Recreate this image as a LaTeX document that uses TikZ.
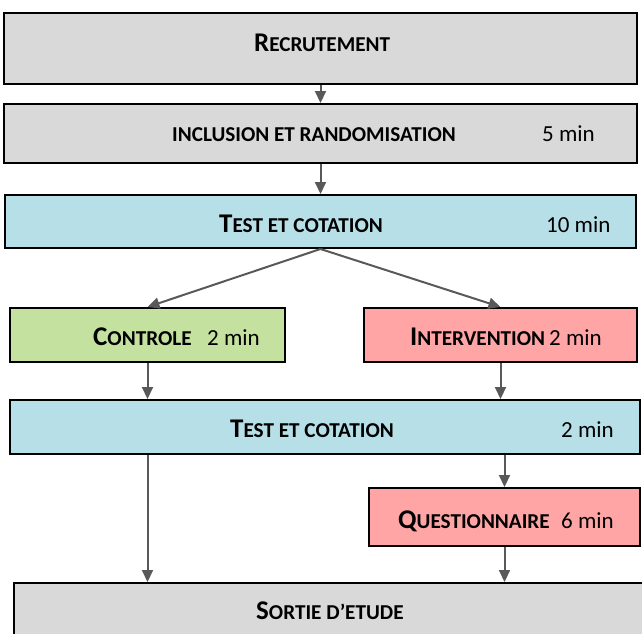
\documentclass[tikz,border=0pt]{standalone}
\usepackage{fontspec}
\setmainfont{Carlito}
\usetikzlibrary{arrows.meta}
\definecolor{boxgray}{HTML}{D9D9D9}
\definecolor{boxblue}{HTML}{B6DFE8}
\definecolor{boxgreen}{HTML}{C4E1A0}
\definecolor{boxred}{HTML}{FFA5A5}
\definecolor{arrgray}{HTML}{595959}
\newcommand{\BigC}[1]{{\fontsize{27}{30}\selectfont\bfseries #1}}
\newcommand{\SmC}[1]{{\fontsize{21.2}{24}\selectfont\bfseries #1}}
\newcommand{\Reg}[1]{{\fontsize{23}{28}\selectfont #1}}
\begin{document}
\begin{tikzpicture}[x=1pt,y=-1pt,
  box/.style={draw=black, line width=2pt, rectangle, inner sep=0pt},
  lbl/.style={anchor=base west, inner sep=0pt},
  arr/.style={draw=arrgray, line width=2pt, -{Triangle[length=12pt,width=11pt]}}]
\useasboundingbox (0,0) rectangle (642,633);
\clip (0,0) rectangle (642,633);
% boxes
\node[box, fill=boxgray, minimum width=633pt, minimum height=71pt] (rec) at (320.5,48.5) {};
\node[box, fill=boxgray, minimum width=633pt, minimum height=59pt] (inc) at (320.5,133.5) {};
\node[box, fill=boxblue, minimum width=631pt, minimum height=53pt] (testA) at (320.5,221.5) {};
\node[box, fill=boxgreen, minimum width=275pt, minimum height=54pt] (ctrl) at (147.5,335) {};
\node[box, fill=boxred, minimum width=273pt, minimum height=54pt] (interv) at (500.5,335) {};
\node[box, fill=boxblue, minimum width=630pt, minimum height=54pt] (testB) at (325,427) {};
\node[box, fill=boxred, minimum width=271pt, minimum height=58pt] (quest) at (504.5,517) {};
\node[box, fill=boxgray, minimum width=631pt, minimum height=58pt] (sortie) at (329.5,612) {};
% texts
\node[lbl] (t1) at (254,51) {\BigC{R}\SmC{ECRUTEMENT}};
\node[lbl] (t2) at (172,141) {\SmC{INCLUSION ET RANDOMISATION}};
\node[lbl] (t2m) at (542,141) {\Reg{5 min}};
\node[lbl] (t3) at (219,232) {\BigC{T}\SmC{EST ET COTATION}};
\node[lbl] (t3m) at (546,232) {\Reg{10 min}};
\node[lbl] (t4) at (93,345) {\BigC{C}\SmC{ONTROLE}};
\node[lbl] (t4m) at (207,345) {\Reg{2 min}};
\node[lbl] (t5) at (410,345) {\BigC{I}\SmC{NTERVENTION}};
\node[lbl] (t5m) at (549,345) {\Reg{2 min}};
\node[lbl] (t6) at (230,437) {\BigC{T}\SmC{EST ET COTATION}};
\node[lbl] (t6m) at (561,437) {\Reg{2 min}};
\node[lbl] (t7) at (398,528) {\BigC{Q}\SmC{UESTIONNAIRE}};
\node[lbl] (t7m) at (561,528) {\Reg{6 min}};
\node[lbl] (t8) at (256,619) {\BigC{S}\SmC{ORTIE D’ETUDE}};
% arrows
\draw[arr] (rec.south) -- (inc.north);
\draw[arr] (inc.south) -- (testA.north);
\draw[arr] (testA.south) -- (ctrl.north);
\draw[arr] (testA.south) -- (interv.north);
\draw[arr] (ctrl.south) -- (ctrl.south |- testB.north);
\draw[arr] (interv.south) -- (interv.south |- testB.north);
\draw[arr] (ctrl.south |- testB.south) -- (ctrl.south |- sortie.north);
\draw[arr] (quest.north |- testB.south) -- (quest.north);
\draw[arr] (quest.south) -- (quest.south |- sortie.north);
\end{tikzpicture}
\end{document}
